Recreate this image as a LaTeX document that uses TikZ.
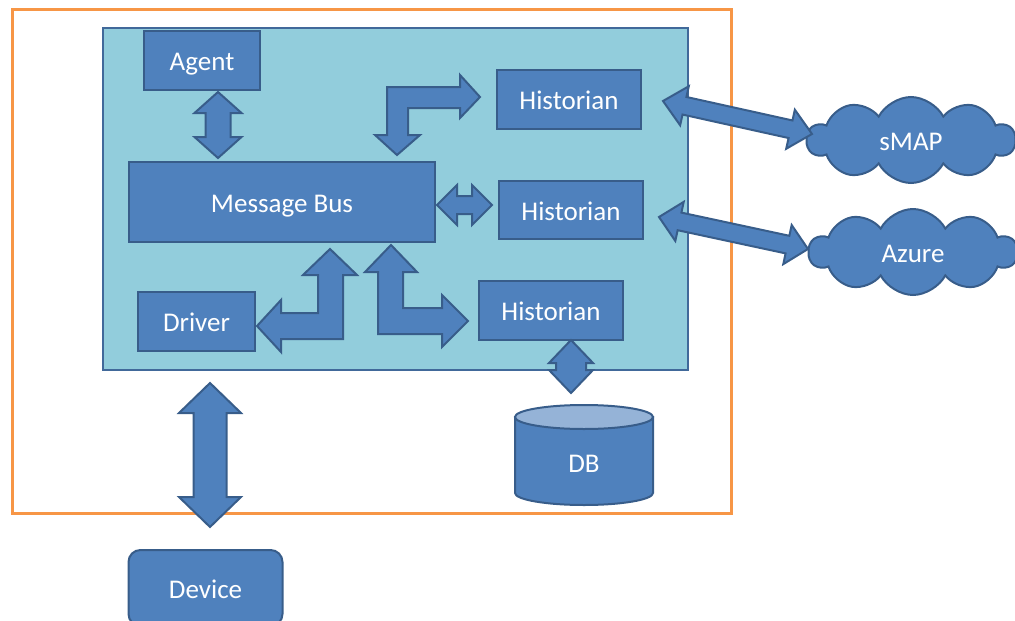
\documentclass[tikz,border=0pt]{standalone}
\usepackage{fontspec}
\setmainfont{Carlito}
\usetikzlibrary{calc,shapes.symbols}
\definecolor{boxfill}{HTML}{4F81BD}
\definecolor{boxline}{HTML}{385D8A}
\definecolor{panelfill}{HTML}{92CDDC}
\definecolor{panelline}{HTML}{41699A}
\definecolor{framec}{HTML}{F79646}
\definecolor{dbtop}{HTML}{95B3D7}
\tikzset{
  box/.style={draw=boxline, fill=boxfill, line width=2pt, text=white,
    font=\fontsize{27}{32}\selectfont, inner sep=0pt, text height=22pt, text depth=2pt},
  blockarrow/.style={draw=boxline, fill=boxfill, line width=2pt, line join=miter},
  cloudbox/.style={cloud, cloud puffs=10, cloud puff arc=125, aspect=2.5, box},
  dbbody/.style={draw=boxline, fill=boxfill, line width=2pt},
  dbend/.style={draw=boxline, fill=dbtop, line width=2pt},
  label/.style={text=white, font=\fontsize{27}{32}\selectfont, inner sep=0pt, text height=22pt, text depth=2pt},
}
% straight double block arrow: from, to, shaft half-width, head half-width, head length
\newcommand\dblarr[5]{%
  \path ($(#1)!#5!(#2)$) coordinate (dA) ($(#2)!#5!(#1)$) coordinate (dB);
  \draw[blockarrow] (#1) -- ($(dA)!#4!90:(#2)$) -- ($(dA)!#3!90:(#2)$)
    -- ($(dB)!#3!-90:(#1)$) -- ($(dB)!#4!-90:(#1)$) -- (#2)
    -- ($(dB)!#4!90:(#1)$) -- ($(dB)!#3!90:(#1)$)
    -- ($(dA)!#3!-90:(#2)$) -- ($(dA)!#4!-90:(#2)$) -- cycle;}
\begin{document}
\begin{tikzpicture}[x=1pt,y=1pt]
\useasboundingbox (0,0) rectangle (1015,-621);
% outer frame and panel
\draw[framec, line width=3pt] (12,-9) rectangle (731,-513);
\node[draw=panelline, fill=panelfill, line width=2pt, minimum width=585pt,
  minimum height=342pt, inner sep=0pt, anchor=north west] (panel) at (102,-27) {};
% boxes
\node[box, minimum width=116pt, minimum height=59pt] (agent) at (202,-60.5) {Agent};
\node[box, minimum width=306pt, minimum height=80pt] (bus) at (282,-202) {Message Bus};
\node[box, minimum width=144pt, minimum height=59pt] (hist1) at (569,-99.5) {Historian};
\node[box, minimum width=144pt, minimum height=58pt] (hist2) at (571,-210) {Historian};
\node[box, minimum width=144pt, minimum height=59pt] (hist3) at (551,-310.5) {Historian};
\node[box, minimum width=117pt, minimum height=59pt] (driver) at (196.5,-321.5) {Driver};
\node[box, rounded corners=12pt, minimum width=154pt, minimum height=76pt] (device) at (205.5,-588) {Device};
% clouds
\node[cloudbox, minimum width=208pt, minimum height=86pt] (smap) at (911,-140) {sMAP};
\node[cloudbox, minimum width=208pt, minimum height=86pt] (azure) at (913,-252) {Azure};
% database
\draw[dbbody] (515,-417) -- (515,-493) arc[start angle=180, end angle=360, x radius=69, y radius=12]
  -- (653,-417) -- cycle;
\draw[dbend] (584,-417) ellipse[x radius=69, y radius=12];
\node[label] (db) at (584,-462) {DB};
% arrow end points
\coordinate (ag1) at (218,-92);   \coordinate (ag2) at (218,-158);
\coordinate (dv1) at (210,-383);  \coordinate (dv2) at (210,-527);
\coordinate (db1) at (571,-340);  \coordinate (db2) at (571,-393);
\coordinate (bh1) at (437,-205);  \coordinate (bh2) at (492,-205);
\coordinate (sm1) at (663,-101);  \coordinate (sm2) at (812,-134);
\coordinate (az1) at (659,-217);  \coordinate (az2) at (808,-249);
\dblarr{ag1}{ag2}{12.5pt}{23.5pt}{21pt}
\dblarr{dv1}{dv2}{16.5pt}{31pt}{30pt}
\dblarr{db1}{db2}{15pt}{22pt}{23pt}
\dblarr{bh1}{bh2}{9pt}{20pt}{20pt}
\dblarr{sm1}{sm2}{9pt}{20pt}{22pt}
\dblarr{az1}{az2}{9pt}{20pt}{21pt}
% bent double arrows
\coordinate (t1) at (397,-155); \coordinate (t2) at (480,-97);
\draw[blockarrow] (t1) -- (420,-135) -- (408,-135) -- (408,-108) -- (460,-108) -- (460,-118)
  -- (t2) -- (460,-75) -- (460,-87) -- (387,-87) -- (387,-135) -- (375,-135) -- cycle;
\coordinate (d1) at (330,-249); \coordinate (d2) at (257,-326);
\draw[blockarrow] (d1) -- (357,-275) -- (343,-275) -- (343,-339) -- (281,-339) -- (281,-352)
  -- (d2) -- (281,-300) -- (281,-313) -- (318,-313) -- (318,-275) -- (303,-275) -- cycle;
\coordinate (h1) at (391,-245); \coordinate (h2) at (468,-321);
\draw[blockarrow] (h1) -- (417,-272) -- (403,-272) -- (403,-308) -- (442,-308) -- (442,-295)
  -- (h2) -- (442,-347) -- (442,-334) -- (378,-334) -- (378,-272) -- (365,-272) -- cycle;
\end{tikzpicture}
\end{document}
